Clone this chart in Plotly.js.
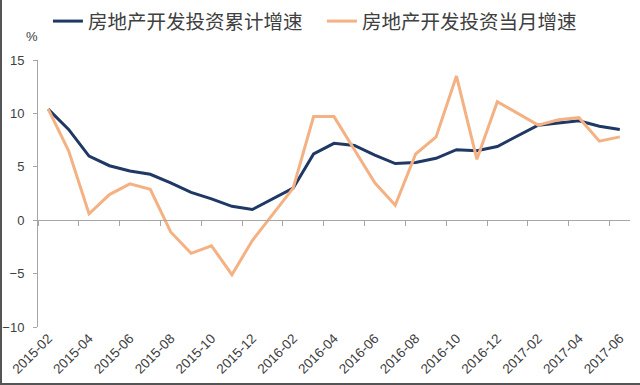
<!DOCTYPE html>
<html>
<head>
<meta charset="utf-8">
<script src="https://cdn.plot.ly/plotly-3.0.1.min.js"></script>
<style>
  html, body { margin: 0; padding: 0; background: #fff; }
  #wrap { position: absolute; left: 0; top: 0; width: 640px; height: 385px; box-sizing: border-box;
          border-left: 2px solid #555; border-bottom: 2px solid #555; background: #fff; }
  #chart { width: 638px; height: 383px; }
</style>
</head>
<body>
<div id="wrap"><div id="chart"></div></div>
<script>
// Months (January values are merged into February in the source, so they are empty)
const months = [
  "2015-02","2015-03","2015-04","2015-05","2015-06","2015-07","2015-08","2015-09","2015-10","2015-11","2015-12",
  "2016-01","2016-02","2016-03","2016-04","2016-05","2016-06","2016-07","2016-08","2016-09","2016-10","2016-11","2016-12",
  "2017-01","2017-02","2017-03","2017-04","2017-05","2017-06"
];
const cumulativeGrowth = [10.4, 8.5, 6.0, 5.1, 4.6, 4.3, 3.5, 2.6, 2.0, 1.3, 1.0,
  null, 3.0, 6.2, 7.2, 7.0, 6.1, 5.3, 5.4, 5.8, 6.6, 6.5, 6.9,
  null, 8.9, 9.1, 9.3, 8.8, 8.5];
const monthlyGrowth = [10.4, 6.5, 0.6, 2.4, 3.4, 2.9, -1.1, -3.1, -2.4, -5.1, -1.9,
  null, 3.0, 9.7, 9.7, 6.6, 3.5, 1.4, 6.2, 7.8, 13.5, 5.7, 11.1,
  null, 8.9, 9.4, 9.6, 7.4, 7.8];
const seriesNames = ["房地产开发投资累计增速", "房地产开发投资当月增速"];
const tickLabels = months.filter((m, i) => i % 2 === 0);

const cjk = '"Noto Sans CJK SC", "Noto Sans", sans-serif';
const num = '"Liberation Sans", Arial, sans-serif';

const traces = [
  { x: months, y: cumulativeGrowth, name: seriesNames[0], type: 'scatter', mode: 'lines',
    connectgaps: true, line: { color: '#1F3864', width: 3 } },
  { x: months, y: monthlyGrowth, name: seriesNames[1], type: 'scatter', mode: 'lines',
    connectgaps: true, line: { color: '#F4B183', width: 3 } }
];

const layout = {
  width: 638, height: 383,
  margin: { l: 36, r: 10, t: 60, b: 56 },
  paper_bgcolor: '#fff', plot_bgcolor: '#fff',
  showlegend: true,
  legend: {
    orientation: 'h', xref: 'container', yref: 'container',
    x: 0.072, y: 0.995, xanchor: 'left', yanchor: 'top',
    font: { family: cjk, size: 19.5, color: '#404040' },
    itemwidth: 30, entrywidth: 229, entrywidthmode: 'pixels',
    bgcolor: 'rgba(0,0,0,0)'
  },
  xaxis: {
    type: 'category', categoryorder: 'array', categoryarray: months,
    range: [-0.5, months.length - 0.5],
    tickvals: tickLabels, ticktext: tickLabels,
    tickangle: -45, ticks: '', showline: false, showgrid: false, zeroline: false,
    tickfont: { family: num, size: 13.5, color: '#404040' }
  },
  xaxis2: {
    type: 'linear', overlaying: 'x', anchor: 'free', position: 0.4,
    range: [-0.5, months.length - 0.5],
    tick0: -0.5, dtick: 2, ticks: 'outside', ticklen: 5, tickwidth: 1, tickcolor: '#A6A6A6',
    showticklabels: false, showline: true, linecolor: '#A6A6A6', linewidth: 1,
    showgrid: false, zeroline: false
  },
  yaxis: {
    range: [-10, 15], dtick: 5, tick0: 0,
    showline: true, linecolor: '#A6A6A6', linewidth: 1,
    ticks: 'outside', ticklen: 4, tickcolor: '#A6A6A6',
    showgrid: false, zeroline: false,
    ticklabelstandoff: 6,
    tickfont: { family: num, size: 13, color: '#404040' }
  },
  annotations: [{
    text: '%', xref: 'paper', yref: 'paper', x: 0, y: 1, xanchor: 'right', yanchor: 'bottom',
    xshift: 2, yshift: 14, showarrow: false,
    font: { family: num, size: 13, color: '#404040' }
  }]
};

// empty trace that only activates the second x axis (tick marks along y = 0)
traces.push({ x: [], y: [], xaxis: 'x2', yaxis: 'y', showlegend: false, hoverinfo: 'skip' });

Plotly.newPlot('chart', traces, layout, { displayModeBar: false, staticPlot: true });
</script>
</body>
</html>
